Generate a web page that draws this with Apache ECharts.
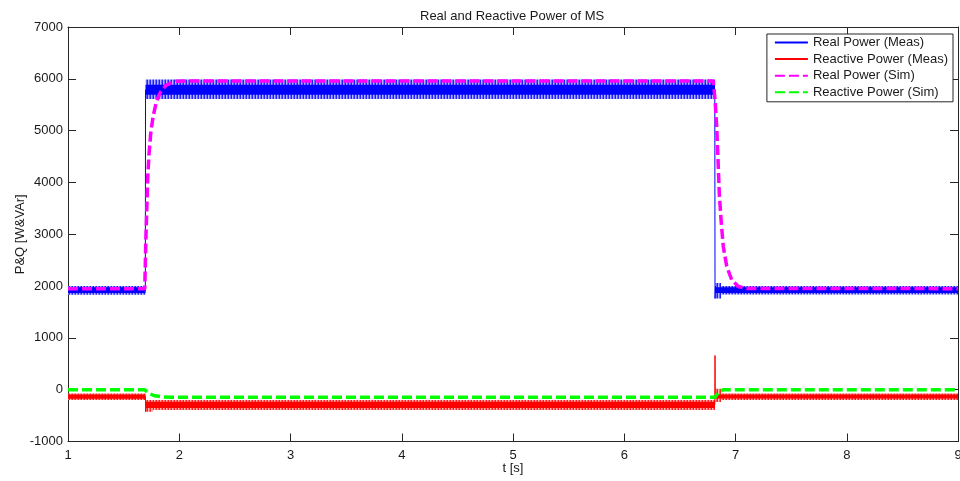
<!DOCTYPE html>
<html>
<head>
<meta charset="utf-8">
<title>Real and Reactive Power of MS</title>
<script src="https://cdn.jsdelivr.net/npm/echarts@6/dist/echarts.min.js"></script>
<style>
  html, body { margin: 0; padding: 0; background: #ffffff; }
  #chart { width: 960px; height: 481px; }
</style>
</head>
<body>
<div id="chart"></div>
<script>
// ---- axis ranges / ticks ----
const tMin = 1, tMax = 9, tStep = 1;
const pMin = -1000, pMax = 7000, pStep = 1000;

// ---- measured real power: mean trace through the load steps ----
const realMeasT = [1, 1.695, 1.697, 6.814, 6.816, 6.820, 6.830, 9];
const realMeasP = [1915, 1915, 5785, 5785, 1760, 1995, 1915, 1915];
// ripple envelope of the measured real power, segments [t0, t1, low, high]
const realMeasOuter = [
  [1.000, 1.697, 1830, 2000],
  [1.697, 6.816, 5610, 5985],
  [6.816, 6.870, 1760, 2060],
  [6.870, 9.000, 1835, 2000]
];
const realMeasInner = [
  [1.000, 1.697, 1865, 1975],
  [1.697, 6.816, 5690, 5885],
  [6.816, 9.000, 1865, 1975]
];

// ---- measured reactive power: mean trace with switching spikes ----
const reactMeasT = [1, 1.696, 1.698, 1.700, 1.710, 6.814, 6.816, 6.818, 6.830, 6.860, 9];
const reactMeasQ = [-135, -135, -425, -290, -290, -290, 660, -110, -60, -135, -135];
// ripple envelope of the measured reactive power, segments [t0, t1, low, high]
const reactMeasOuter = [
  [1.000, 1.697, -200, -75],
  [1.697, 1.760, -425, -200],
  [1.760, 6.816, -390, -200],
  [6.816, 6.870, -240, 20],
  [6.870, 9.000, -200, -75]
];
const reactMeasInner = [
  [1.000, 1.697, -175, -95],
  [1.697, 6.816, -355, -235],
  [6.816, 9.000, -170, -95]
];

// ---- simulated real power ----
const realSimT = [1, 1.690, 1.699, 1.708, 1.717, 1.729, 1.744, 1.765, 1.795, 1.834, 1.885, 1.975, 2.05,
                  6.800, 6.816, 6.831, 6.843, 6.854, 6.870, 6.890, 6.921, 6.966, 7.025, 7.100, 9];
const realSimP = [1950, 1950, 2830, 3470, 4115, 4570, 4955, 5275, 5565, 5755, 5885, 5955, 5960,
                  5960, 5600, 5080, 4440, 3795, 3280, 2765, 2380, 2120, 1990, 1955, 1950];

// ---- simulated reactive power ----
const reactSimT = [1, 1.690, 1.720, 1.780, 1.855, 1.915, 6.816, 6.845, 6.890, 9];
const reactSimQ = [0, 0, -65, -118, -140, -145, -145, -55, 0, 0];

const FONT = '"Liberation Sans", Arial, Helvetica, sans-serif';
const INK = '#1a1a1a';
const FRAME = '#262626';

const pairs = (ts, vs) => ts.map((t, i) => [t, vs[i]]);

// fine vertical hatch used to render the fringe of a sampled ripple band
function hatch(colors) {
  const c = document.createElement('canvas');
  c.width = colors.length; c.height = 1;
  const g = c.getContext('2d');
  colors.forEach((col, i) => { g.fillStyle = col; g.fillRect(i, 0, 1, 1); });
  return { image: c, repeat: 'repeat' };
}

// filled ripple band drawn as rectangles in data coordinates
function bandSeries(segs, fill, z) {
  return {
    type: 'custom',
    silent: true,
    z: z,
    clip: true,
    data: segs,
    encode: { x: [0, 1], y: [2, 3] },
    renderItem: function (params, api) {
      const a = api.coord([api.value(0), api.value(3)]);
      const b = api.coord([api.value(1), api.value(2)]);
      return {
        type: 'rect',
        shape: { x: a[0], y: a[1], width: b[0] - a[0], height: b[1] - a[1] },
        style: { fill: fill }
      };
    }
  };
}

const axisCommon = {
  type: 'value',
  axisLine: { show: true, onZero: false, lineStyle: { color: FRAME, width: 1 } },
  axisTick: { show: true, inside: true, length: 8, lineStyle: { color: FRAME } },
  splitLine: { show: false }
};

const chart = echarts.init(document.getElementById('chart'), null, { renderer: 'canvas' });
chart.setOption({
  animation: false,
  backgroundColor: '#ffffff',
  title: {
    text: 'Real and Reactive Power of MS',
    left: 415, top: 5,
    textStyle: { fontFamily: FONT, fontSize: 13, fontWeight: 'normal', color: INK }
  },
  grid: { left: 68, top: 27, width: 890, height: 414.5, containLabel: false, outerBoundsMode: 'none' },
  xAxis: [
    Object.assign({}, axisCommon, {
      min: tMin, max: tMax, interval: tStep, position: 'bottom',
      name: 't [s]', nameLocation: 'middle', nameGap: 20, nameMoveOverlap: false,
      nameTextStyle: { fontFamily: FONT, fontSize: 13, color: INK },
      axisLabel: { margin: 7, fontFamily: FONT, fontSize: 13, color: INK, formatter: v => String(v) }
    }),
    Object.assign({}, axisCommon, {
      min: tMin, max: tMax, interval: tStep, position: 'top',
      axisLabel: { show: false }
    })
  ],
  yAxis: [
    Object.assign({}, axisCommon, {
      min: pMin, max: pMax, interval: pStep, position: 'left',
      name: 'P&Q [W&VAr]', nameLocation: 'middle', nameGap: 41, nameMoveOverlap: false,
      nameTextStyle: { fontFamily: FONT, fontSize: 13, color: INK },
      axisLabel: { margin: 5, fontFamily: FONT, fontSize: 13, color: INK, formatter: v => String(v) }
    }),
    Object.assign({}, axisCommon, {
      min: pMin, max: pMax, interval: pStep, position: 'right',
      axisLabel: { show: false }
    })
  ],
  legend: {
    orient: 'vertical',
    right: 7, top: 34,
    backgroundColor: '#ffffff',
    borderColor: FRAME, borderWidth: 1, borderRadius: 0,
    padding: [2, 5, 3, 7],
    itemWidth: 33, itemHeight: 14, itemGap: 3.6,
    itemStyle: { opacity: 0, borderWidth: 0 },
    textStyle: { fontFamily: FONT, fontSize: 13, color: INK },
    data: ['Real Power (Meas)', 'Reactive Power (Meas)', 'Real Power (Sim)', 'Reactive Power (Sim)']
  },
  series: [
    bandSeries(realMeasOuter, hatch(['#2020ff', '#b4b4ff', '#6a6aff']), 1),
    bandSeries(realMeasInner, '#0000ff', 1),
    bandSeries(reactMeasOuter, hatch(['#ff2020', '#ffb4b4', '#ff6a6a']), 1),
    bandSeries(reactMeasInner, '#ff0000', 1),
    {
      name: 'Real Power (Meas)', type: 'line', z: 2,
      data: pairs(realMeasT, realMeasP),
      symbol: 'none', showSymbol: false, color: '#0000ff',
      lineStyle: { color: '#0000ff', width: 1 }
    },
    {
      name: 'Reactive Power (Meas)', type: 'line', z: 2,
      data: pairs(reactMeasT, reactMeasQ),
      symbol: 'none', showSymbol: false, color: '#ff0000',
      lineStyle: { color: '#ff0000', width: 1 }
    },
    {
      name: 'Real Power (Sim)', type: 'line', z: 3,
      data: pairs(realSimT, realSimP),
      symbol: 'none', showSymbol: false, color: '#ff00ff',
      lineStyle: { color: '#ff00ff', width: 3.5, type: [10, 4] }
    },
    {
      name: 'Reactive Power (Sim)', type: 'line', z: 3,
      data: pairs(reactSimT, reactSimQ),
      symbol: 'none', showSymbol: false, color: '#00ff00',
      lineStyle: { color: '#00ff00', width: 3.5, type: [10, 4] }
    }
  ]
});
</script>
</body>
</html>
